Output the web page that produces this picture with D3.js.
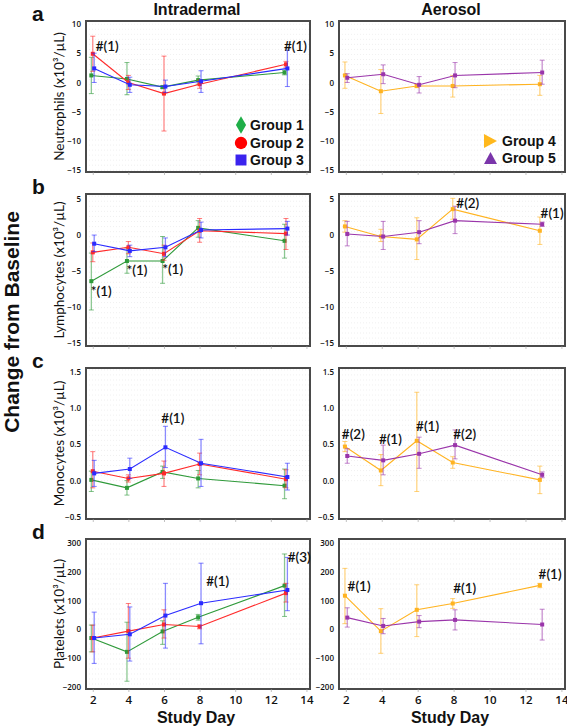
<!DOCTYPE html>
<html><head><meta charset="utf-8">
<script src="https://cdn.jsdelivr.net/npm/d3@7"></script>
<style>body{margin:0;background:#fff}svg{display:block}</style>
</head><body><svg id="c" width="567" height="727"></svg>
<script>
// ---- data ----
const days = [2, 4, 6, 8, 12.85];
const xTicks = [2, 4, 6, 8, 10, 12, 14];
const groupNames = ["Group 1", "Group 2", "Group 3", "Group 4", "Group 5"];
// each entry: [mean, lower, upper]
const neutG1 = [[1.2,-1.9,4.3],[0.6,-2.1,3.4],[-0.8,-1.0,-0.6],[0.4,-0.3,1.1],[1.7,1.3,2.1]];
const neutG2 = [[4.9,1.9,7.9],[0.0,-1.2,1.2],[-1.9,-8.3,4.5],[-0.3,-1.0,0.4],[3.1,2.6,3.6]];
const neutG3 = [[2.4,0.0,5.0],[-0.4,-1.7,0.9],[-0.7,-1.7,0.4],[0.2,-1.7,2.0],[2.4,-0.7,5.5]];
const neutG4 = [[1.2,-1.0,3.5],[-1.5,-5.3,2.2],[-0.6,-0.9,-0.3],[-0.6,-2.5,1.2],[-0.3,-2.2,1.2]];
const neutG5 = [[0.8,0.0,1.5],[1.4,-0.2,3.0],[-0.4,-1.8,1.0],[1.2,-0.9,3.4],[1.7,-0.3,3.8]];
const lymG1 = [[-6.4,-10.4,-2.5],[-3.6,-5.3,-1.8],[-3.6,-6.7,-0.2],[1.0,-0.3,2.0],[-0.8,-3.2,1.5]];
const lymG2 = [[-2.4,-3.7,-1.1],[-1.7,-2.6,-0.9],[-2.6,-3.5,-1.4],[0.6,-1.0,2.3],[0.2,-2.0,2.3]];
const lymG3 = [[-1.2,-2.3,0.0],[-2.2,-3.0,-1.4],[-1.7,-3.0,-0.4],[0.7,-0.4,1.8],[0.9,0.0,1.9]];
const lymG4 = [[1.2,0.4,2.0],[-0.2,-0.9,0.8],[-0.6,-3.4,2.4],[3.6,2.2,5.1],[0.6,-1.3,2.5]];
const lymG5 = [[0.15,-1.5,1.9],[-0.2,-2.0,1.9],[0.4,-1.2,2.0],[2.0,0.2,4.0],[1.5,1.2,1.8]];
const monoG1 = [[0.01,-0.15,0.13],[-0.1,-0.2,0.0],[0.12,0.03,0.2],[0.03,-0.1,0.14],[-0.07,-0.25,0.16]];
const monoG2 = [[0.13,-0.1,0.4],[0.03,-0.02,0.08],[0.1,-0.08,0.27],[0.23,0.08,0.38],[0.02,-0.1,0.15]];
const monoG3 = [[0.1,-0.08,0.28],[0.16,0.03,0.31],[0.46,0.18,0.75],[0.24,-0.08,0.57],[0.05,-0.13,0.24]];
const monoG4 = [[0.47,0.4,0.54],[0.14,-0.07,0.36],[0.55,-0.15,1.22],[0.25,0.17,0.33],[0.01,-0.18,0.2]];
const monoG5 = [[0.34,0.24,0.44],[0.28,0.08,0.49],[0.37,0.17,0.6],[0.49,0.3,0.7],[0.08,0.04,0.12]];
const pltG1 = [[-30,-78,15],[-78,-180,25],[-7,-52,30],[42,32,52],[152,45,262]];
const pltG2 = [[-30,-78,15],[-6,-100,90],[17,-30,68],[10,2,15],[126,95,160]];
const pltG3 = [[-30,-118,60],[-17,-110,78],[48,-65,160],[91,-50,230],[137,65,250]];
const pltG4 = [[117,20,212],[-6,-83,72],[68,-25,155],[90,73,107],[153,145,160]];
const pltG5 = [[41,8,75],[12,-15,38],[27,6,48],[33,-2,68],[17,-37,70]];
const yTicksNeut = [10, 5, 0, -5, -10, -15];
const yTicksLym = [5, 0, -5, -10, -15];
const yTicksMono = [1.5, 1.0, 0.5, 0.0, -0.5];
const yTicksPlt = [300, 200, 100, 0, -100, -200];
const yLabels = ["Neutrophils (x10³/µL)", "Lymphocytes (x10³/µL)", "Monocytes (x10³/µL)", "Platelets (x10³/µL)"];
const panelLetters = ["a", "b", "c", "d"];
// annotations: [row, side, day, value, text]
const notes = [
  [0,0,2.17,5.3,"#(1)"],[0,0,12.74,5.3,"#(1)"],
  [1,0,1.89,-8.5,"*(1)"],[1,0,3.9,-5.55,"*(1)"],[1,0,5.9,-5.4,"*(1)"],
  [1,1,8.15,3.7,"#(2)"],[1,1,12.84,2.35,"#(1)"],
  [2,0,5.85,0.79,"#(1)"],
  [2,1,1.78,0.58,"#(2)"],[2,1,3.84,0.51,"#(1)"],[2,1,5.91,0.69,"#(1)"],[2,1,7.98,0.58,"#(2)"],
  [3,0,8.37,152,"#(1)"],[3,0,12.95,234,"#(3)"],
  [3,1,2.1,134,"#(1)"],[3,1,7.98,128,"#(1)"],[3,1,12.73,176,"#(1)"]
];

// ---- styles / layout ----
const colors = ["#2f9a3a", "#ff2a2a", "#2a2aff", "#ffb320", "#9a35aa"];
const legendColors = ["#1fae48", "#ff0000", "#3a22ee", "#ffb81c", "#7a35aa"];
const offsets = [-0.08, 0, 0.08, -0.05, 0.08];
const cols = [[86, 310], [339, 565]];
const rows = [[21, 172], [194, 346], [368, 519], [539, 689]];
const yDomains = [[-15.3, 10.5], [-15.4, 5.7], [-0.53, 1.555], [-207, 314]];
const yTickSets = [yTicksNeut, yTicksLym, yTicksMono, yTicksPlt];
const yFmt = [d3.format("d"), d3.format("d"), d3.format(".1f"), d3.format("d")];
const data = [
  [[neutG1, neutG2, neutG3], [neutG4, neutG5]],
  [[lymG1, lymG2, lymG3], [lymG4, lymG5]],
  [[monoG1, monoG2, monoG3], [monoG4, monoG5]],
  [[pltG1, pltG2, pltG3], [pltG4, pltG5]]
];

const svg = d3.select("#c");
const xScales = cols.map(c => d3.scaleLinear().domain([1.62, 14.2]).range(c));
const yScales = rows.map((r, i) => d3.scaleLinear().domain(yDomains[i]).range([r[1], r[0]]));

rows.forEach((r, ri) => {
  const y = yScales[ri];
  cols.forEach((c, ci) => {
    const x = xScales[ci];
    const g = svg.append("g");
    // faint dotted grid
    d3.range(Math.ceil(y.domain()[0]), y.domain()[1], (y.domain()[1]-y.domain()[0]) / 30).forEach(v => {
      g.append("line").attr("x1", c[0]).attr("x2", c[1]).attr("y1", y(v)).attr("y2", y(v))
        .attr("stroke", "#e6e6e6").attr("stroke-width", 0.6).attr("stroke-dasharray", "1,2");
    });
    // frame
    g.append("rect").attr("x", c[0]).attr("y", r[0]).attr("width", c[1]-c[0]).attr("height", r[1]-r[0])
      .attr("fill", "none").attr("stroke", "#4a4a4a").attr("stroke-width", 2);
    // y axis labels
    const ya = g.append("g").attr("transform", `translate(${c[0]},0)`)
      .call(d3.axisLeft(y).tickValues(yTickSets[ri]).tickFormat(yFmt[ri]).tickSize(0).tickPadding(5));
    ya.select(".domain").remove();
    ya.selectAll("text").attr("font-family", "Open Sans").attr("font-size", 8).attr("font-weight", 600).attr("fill", "#111");
    // x axis
    const xa = g.append("g").attr("transform", `translate(0,${r[1]})`)
      .call(d3.axisBottom(x).tickValues(xTicks).tickSize(3).tickFormat(ri === 3 ? d3.format("d") : ""));
    xa.select(".domain").remove();
    xa.selectAll("line").attr("stroke", "#999").attr("stroke-width", 0.6);
    xa.selectAll("text").attr("font-family", "Open Sans").attr("font-size", 11.5).attr("font-weight", 600).attr("fill", "#111").attr("dy", "0.8em");

    // series
    data[ri][ci].forEach((s, si) => {
      const gi = ci === 0 ? si : 3 + si;
      const col = colors[gi];
      const xv = i => x(days[i] + offsets[gi]);
      const sg = g.append("g");
      // error bars
      s.forEach((d, i) => {
        sg.append("line").attr("x1", xv(i)).attr("x2", xv(i)).attr("y1", y(d[1])).attr("y2", y(d[2]))
          .attr("stroke", col).attr("stroke-opacity", 0.55).attr("stroke-width", 1.3);
        [d[1], d[2]].forEach(v => sg.append("line").attr("x1", xv(i)-2.5).attr("x2", xv(i)+2.5)
          .attr("y1", y(v)).attr("y2", y(v)).attr("stroke", col).attr("stroke-opacity", 0.6).attr("stroke-width", 1));
      });
      sg.append("path").datum(s)
        .attr("d", d3.line().x((d, i) => xv(i)).y(d => y(d[0])))
        .attr("fill", "none").attr("stroke", col).attr("stroke-width", 1.1);
      sg.selectAll("rect.pt").data(s).join("rect").attr("class", "pt")
        .attr("x", (d, i) => xv(i) - 2).attr("y", d => y(d[0]) - 2).attr("width", 4).attr("height", 4)
        .attr("fill", col);
    });
  });
  // y label
  svg.append("text").attr("transform", `translate(64,${(r[0]+r[1])/2}) rotate(-90)`)
    .attr("text-anchor", "middle").attr("font-family", "Lato").attr("font-size", 13.5).attr("fill", "#111")
    .text(yLabels[ri]);
  // panel letter
  svg.append("text").attr("x", 32).attr("y", r[0]).attr("font-family", "Liberation Sans").attr("font-weight", "bold")
    .attr("font-size", 21).attr("fill", "#111").text(panelLetters[ri]);
});

// annotations
notes.forEach(n => {
  svg.append("text").attr("x", xScales[n[1]](n[2])).attr("y", yScales[n[0]](n[3]))
    .attr("font-family", "Lato").attr("font-size", 13.5).attr("font-weight", 600).attr("fill", "#111").text(n[4]);
});

// titles
const titles = ["Intradermal", "Aerosol"];
titles.forEach((t, i) => svg.append("text").attr("x", (cols[i][0] + cols[i][1]) / 2 - 1).attr("y", 15)
  .attr("text-anchor", "middle").attr("font-family", "Liberation Sans").attr("font-weight", "bold")
  .attr("font-size", 16).attr("fill", "#111").text(t));
["Study Day", "Study Day"].forEach((t, i) => svg.append("text").attr("x", (cols[i][0] + cols[i][1]) / 2 - 2).attr("y", 723)
  .attr("text-anchor", "middle").attr("font-family", "Liberation Sans").attr("font-weight", "bold")
  .attr("font-size", 16).attr("fill", "#111").text(t));
svg.append("text").attr("transform", "translate(19,322) rotate(-90)").attr("text-anchor", "middle")
  .attr("font-family", "Liberation Sans").attr("font-weight", "bold").attr("font-size", 21).attr("fill", "#111")
  .text("Change from Baseline");

// legends
const legY = [125, 143, 160];
const shapes = [d3.symbolDiamond, d3.symbolCircle, d3.symbolSquare];
[0, 1, 2].forEach(k => {
  svg.append("path").attr("transform", `translate(241,${legY[k]})`)
    .attr("d", d3.symbol().type(shapes[k]).size(k === 0 ? 90 : 120)()).attr("fill", legendColors[k]);
  svg.append("text").attr("x", 250).attr("y", legY[k] + 5).attr("font-family", "Liberation Sans").attr("font-weight", "bold")
    .attr("font-size", 14).attr("fill", "#111").text(groupNames[k]);
});
const legY2 = [141, 158];
svg.append("path").attr("d", d3.line()([[484, 134], [497, 141], [484, 148]]) + "Z").attr("fill", legendColors[3]);
svg.append("path").attr("d", d3.line()([[484, 164], [490.5, 152], [497, 164]]) + "Z").attr("fill", legendColors[4]);
[0, 1].forEach(k => svg.append("text").attr("x", 502).attr("y", legY2[k] + 5).attr("font-family", "Liberation Sans")
  .attr("font-weight", "bold").attr("font-size", 14).attr("fill", "#111").text(groupNames[3 + k]));
</script></body></html>
